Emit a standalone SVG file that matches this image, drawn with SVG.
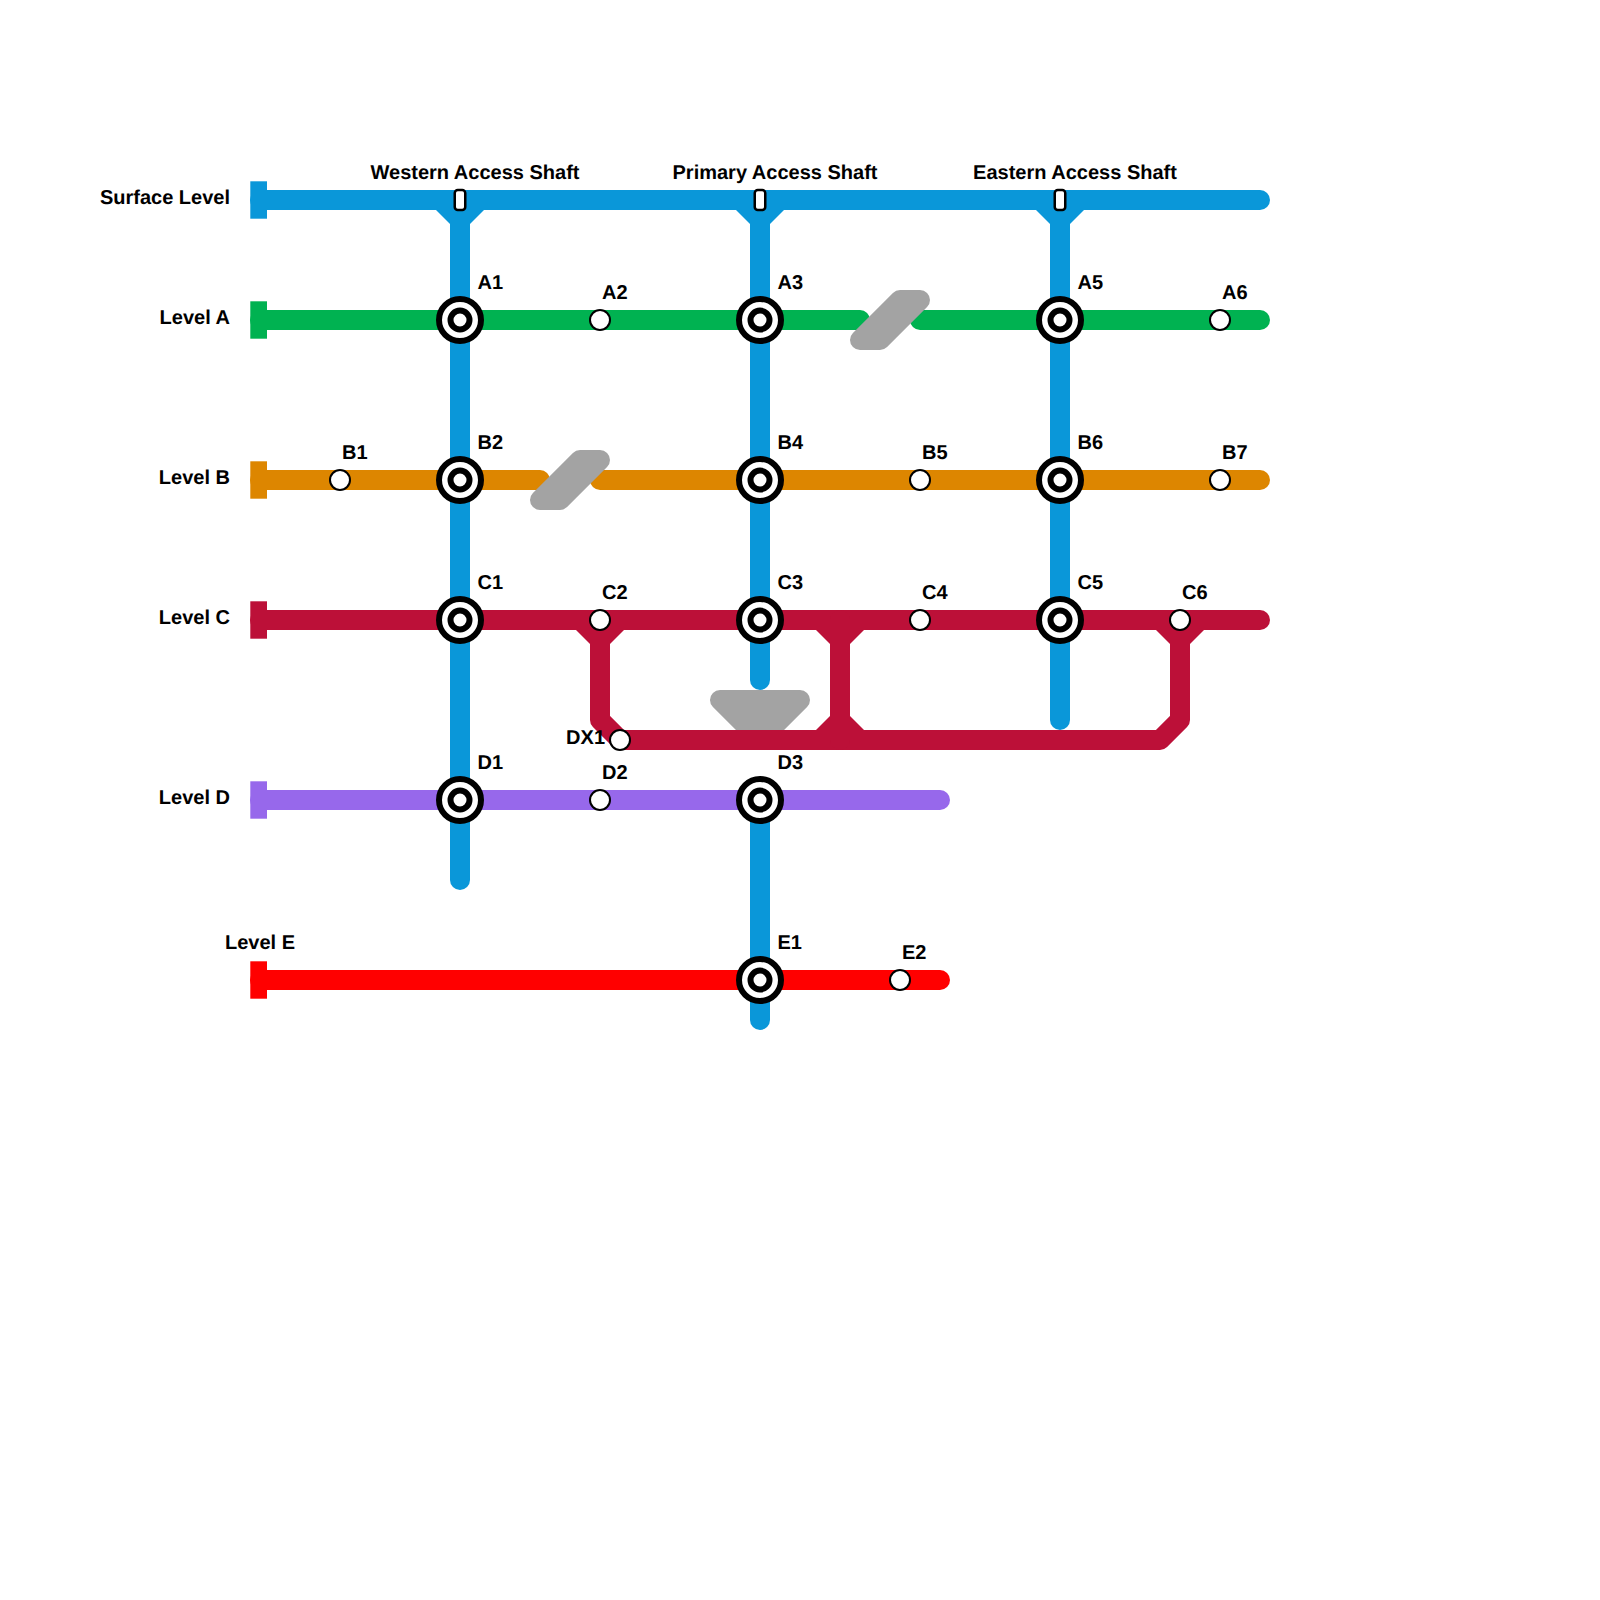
<svg xmlns="http://www.w3.org/2000/svg" width="1600" height="1600" viewBox="0 0 1600 1600">
<style>
.ln{fill:none;stroke-width:20;stroke-linecap:round;stroke-linejoin:round}
.blue{stroke:#0a97d9}.green{stroke:#00b251}.orange{stroke:#dd8600}.crimson{stroke:#bc1038}.purple{stroke:#9768eb}.red{stroke:#ff0000}
.fblue{fill:#0a97d9}.fgreen{fill:#00b251}.forange{fill:#dd8600}.fcrimson{fill:#bc1038}.fpurple{fill:#9768eb}.fred{fill:#ff0000}
.gap{fill:#a3a3a3;stroke:#a3a3a3;stroke-width:20;stroke-linejoin:round}
.st{fill:#fff;stroke:#000;stroke-width:2}
.ic{fill:#fff;stroke:#000;stroke-width:6}
.sh{fill:#fff;stroke:#000;stroke-width:2.5}
text{font-family:"Liberation Sans",Arial,sans-serif;font-weight:700;font-size:20px;fill:#000;text-rendering:geometricPrecision;transform:translateY(-0.6px)}
.e{text-anchor:end}.m{text-anchor:middle}
</style>
<defs>
<g id="ic"><circle class="ic" r="21"/><circle class="ic" r="9.5"/></g>
<circle id="s" class="st" r="10"/>
<rect id="sf" class="sh" x="-5.25" y="-10" width="10.5" height="20" rx="3"/>
</defs>
<rect width="1600" height="1600" fill="#fff"/>
<g id="connectors">
<path class="ln blue" d="M260 200H1260"/>
<path class="ln blue" d="M460 200V880"/>
<path class="ln blue" d="M760 200V680"/>
<path class="ln blue" d="M760 800V1020"/>
<path class="ln blue" d="M1060 200V720"/>
<path class="fblue" d="M436 210L450 224H470L484 210Z"/>
<path class="fblue" d="M736 210L750 224H770L784 210Z"/>
<path class="fblue" d="M1036 210L1050 224H1070L1084 210Z"/>
<path class="ln green" d="M260 320H860"/>
<path class="ln green" d="M920 320H1260"/>
<path class="ln orange" d="M260 480H540"/>
<path class="ln orange" d="M600 480H1260"/>
<path class="gap" d="M860 340H880L920 300H900Z"/>
<path class="gap" d="M540 500H560L600 460H580Z"/>
<path class="gap" d="M720 700H800L770 730H750Z"/>
<path class="ln crimson" d="M260 620H1260"/>
<path class="ln crimson" d="M600 620V720L620 740H1160L1180 720V620"/>
<path class="ln crimson" d="M840 620V740"/>
<path class="fcrimson" d="M576 630L590 644H610L624 630Z"/>
<path class="fcrimson" d="M816 630L830 644H850L864 630Z"/>
<path class="fcrimson" d="M816 730L830 716H850L864 730Z"/>
<path class="fcrimson" d="M1156 630L1170 644H1190L1204 630Z"/>
<path class="ln purple" d="M260 800H940"/>
<path class="ln red" d="M260 980H940"/>
<rect class="fblue" x="250.3" y="181.3" width="16.7" height="37.4"/>
<rect class="fgreen" x="250.3" y="301.3" width="16.7" height="37.4"/>
<rect class="forange" x="250.3" y="461.3" width="16.7" height="37.4"/>
<rect class="fcrimson" x="250.3" y="601.3" width="16.7" height="37.4"/>
<rect class="fpurple" x="250.3" y="781.3" width="16.7" height="37.4"/>
<rect class="fred" x="250.3" y="961.3" width="16.7" height="37.4"/>
</g>
<g id="level-surface"><text class="e" x="230" y="205">Surface Level</text></g>
<g id="level-a"><text class="e" x="230" y="325">Level A</text></g>
<g id="level-b"><text class="e" x="230" y="485">Level B</text></g>
<g id="level-c"><text class="e" x="230" y="625">Level C</text></g>
<g id="level-d"><text class="e" x="230" y="805">Level D</text></g>
<g id="level-e"><text class="m" x="260" y="950">Level E</text></g>
<g id="western"><use href="#sf" x="460" y="200"/><text class="m" x="475" y="180">Western Access Shaft</text></g>
<g id="primary"><use href="#sf" x="760" y="200"/><text class="m" x="775" y="180">Primary Access Shaft</text></g>
<g id="eastern"><use href="#sf" x="1060" y="200"/><text class="m" x="1075" y="180">Eastern Access Shaft</text></g>
<g id="A1"><use href="#ic" x="460" y="320"/><text x="477.5" y="290">A1</text></g>
<g id="A2"><use href="#s" x="600" y="320"/><text x="602" y="300">A2</text></g>
<g id="A3"><use href="#ic" x="760" y="320"/><text x="777.5" y="290">A3</text></g>
<g id="A5"><use href="#ic" x="1060" y="320"/><text x="1077.5" y="290">A5</text></g>
<g id="A6"><use href="#s" x="1220" y="320"/><text x="1222" y="300">A6</text></g>
<g id="B1"><use href="#s" x="340" y="480"/><text x="342" y="460">B1</text></g>
<g id="B2"><use href="#ic" x="460" y="480"/><text x="477.5" y="450">B2</text></g>
<g id="B4"><use href="#ic" x="760" y="480"/><text x="777.5" y="450">B4</text></g>
<g id="B5"><use href="#s" x="920" y="480"/><text x="922" y="460">B5</text></g>
<g id="B6"><use href="#ic" x="1060" y="480"/><text x="1077.5" y="450">B6</text></g>
<g id="B7"><use href="#s" x="1220" y="480"/><text x="1222" y="460">B7</text></g>
<g id="C1"><use href="#ic" x="460" y="620"/><text x="477.5" y="590">C1</text></g>
<g id="C2"><use href="#s" x="600" y="620"/><text x="602" y="600">C2</text></g>
<g id="C3"><use href="#ic" x="760" y="620"/><text x="777.5" y="590">C3</text></g>
<g id="C4"><use href="#s" x="920" y="620"/><text x="922" y="600">C4</text></g>
<g id="C5"><use href="#ic" x="1060" y="620"/><text x="1077.5" y="590">C5</text></g>
<g id="C6"><use href="#s" x="1180" y="620"/><text x="1182" y="600">C6</text></g>
<g id="DX1"><use href="#s" x="620" y="740"/><text class="e" x="605" y="745">DX1</text></g>
<g id="D1"><use href="#ic" x="460" y="800"/><text x="477.5" y="770">D1</text></g>
<g id="D2"><use href="#s" x="600" y="800"/><text x="602" y="780">D2</text></g>
<g id="D3"><use href="#ic" x="760" y="800"/><text x="777.5" y="770">D3</text></g>
<g id="E1"><use href="#ic" x="760" y="980"/><text x="777.5" y="950">E1</text></g>
<g id="E2"><use href="#s" x="900" y="980"/><text x="902" y="960">E2</text></g>
</svg>
